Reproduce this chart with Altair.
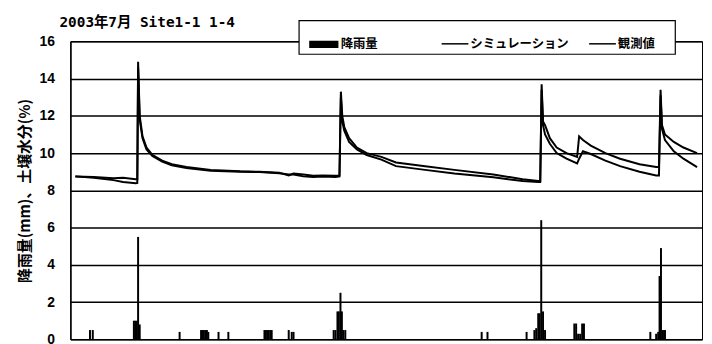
import altair as alt
import pandas as pd

# ---- data ----
y_ticks = [0, 2, 4, 6, 8, 10, 12, 14, 16]
chart_title = "2003年7月 Site1-1 1-4"

# soil moisture (%), day of July 2003
sm_day = [1.00, 1.92, 2.90, 3.38, 4.01, 4.09, 4.13, 4.21, 4.35, 4.55, 4.84, 5.33, 5.81,
          6.54, 7.75, 9.21, 10.18, 11.16, 11.64, 11.88, 12.37, 12.86, 13.34, 13.97, 14.17,
          14.24, 14.31, 14.41, 14.65, 15.04, 15.53, 16.26, 16.99, 18.44, 19.90, 21.84,
          23.30, 24.08, 24.18, 24.25, 24.32, 24.42, 24.66, 25.00, 25.49, 26.02, 26.12,
          26.31, 26.70, 27.43, 28.16, 29.13, 29.96, 30.10, 30.18, 30.25, 30.40, 30.84,
          31.32, 32.00]
sim_pct = [8.75, 8.72, 8.65, 8.68, 8.60, 8.60, 14.9, 12.0, 10.9, 10.3, 9.9, 9.6, 9.4,
           9.25, 9.1, 9.02, 9.0, 8.95, 8.8, 8.9, 8.85, 8.78, 8.8, 8.78, 8.8,
           13.3, 12.0, 11.4, 10.8, 10.3, 10.0, 9.8, 9.5, 9.3, 9.1, 8.85,
           8.6, 8.5, 8.5, 13.7, 11.7, 11.5, 10.8, 10.3, 10.0, 9.8, 10.9,
           10.7, 10.4, 10.0, 9.7, 9.4, 9.25, 9.25, 13.4, 11.5, 11.0, 10.6,
           10.3, 10.0]
obs_pct = [8.75, 8.68, 8.55, 8.45, 8.38, 8.40, 14.6, 11.8, 10.8, 10.2, 9.85, 9.55, 9.35,
           9.2, 9.05, 9.0, 8.98, 8.92, 8.85, 8.85, 8.75, 8.72, 8.75, 8.72, 8.75,
           13.0, 11.7, 11.2, 10.6, 10.2, 9.9, 9.65, 9.3, 9.1, 8.9, 8.7,
           8.5, 8.45, 8.45, 13.4, 11.5, 11.0, 10.5, 10.0, 9.7, 9.45, 9.7,
           10.1, 9.95, 9.6, 9.3, 9.0, 8.8, 8.8, 13.1, 11.3, 10.7, 10.1,
           9.7, 9.25]

# rainfall (mm), day of July 2003
rain_day = [1.73, 1.87, 3.92, 3.99, 4.06, 4.13, 4.21, 6.20,
            7.27, 7.34, 7.41, 7.49, 7.56, 7.63, 8.14, 8.63,
            10.43, 10.50, 10.57, 10.64, 10.72, 10.79, 11.64, 11.79, 11.88,
            13.88, 13.97, 14.07, 14.14, 14.22, 14.29, 14.36, 14.46,
            21.26, 21.55, 23.50, 23.89, 23.98, 24.08, 24.15, 24.23, 24.32, 24.42,
            25.88, 25.97, 26.07, 26.17, 26.27, 26.36,
            29.67, 29.96, 30.06, 30.13, 30.20, 30.30, 30.40]
rain_mm = [0.5, 0.5, 1.0, 1.0, 1.0, 5.5, 0.8, 0.4,
           0.5, 0.5, 0.5, 0.5, 0.5, 0.4, 0.4, 0.4,
           0.5, 0.5, 0.5, 0.5, 0.5, 0.5, 0.5, 0.4, 0.4,
           0.5, 0.5, 1.5, 1.5, 2.5, 1.5, 0.5, 0.5,
           0.4, 0.4, 0.4, 0.5, 0.6, 1.4, 1.4, 6.4, 1.5, 0.5,
           0.85, 0.85, 0.3, 0.3, 0.85, 0.85,
           0.4, 0.3, 0.4, 3.4, 4.9, 0.5, 0.5]

sim_name = "シミュレーション"
obs_name = "観測値"
rain_name = "降雨量"

n = len(sm_day)
sm_df = pd.DataFrame({
    "day": sm_day + sm_day,
    "value": sim_pct + obs_pct,
    "sm": [sim_name] * n + [obs_name] * n,
})
rain_df = pd.DataFrame({"day": rain_day, "mm": rain_mm, "rain": [rain_name] * len(rain_day)})

JP = "Noto Sans CJK JP"
x_scale = alt.Scale(domain=[1, 32], nice=False, zero=False)
y_scale = alt.Scale(domain=[0, 16], nice=False)
y_axis = alt.Axis(values=y_ticks, title="降雨量(mm)、土壌水分(%)", grid=True, ticks=False,
                  labelPadding=16, titlePadding=7)

bars = alt.Chart(rain_df).mark_bar(width=2).encode(
    x=alt.X("day:Q", scale=x_scale, axis=None),
    y=alt.Y("mm:Q", scale=y_scale, axis=y_axis),
    fill=alt.Fill("rain:N", scale=alt.Scale(domain=[rain_name], range=["black"]),
                  legend=alt.Legend(title=None, orient="none", legendX=241, legendY=-12,
                                    padding=0, symbolType="M-1,-0.21H1V0.21H-1Z",
                                    symbolSize=784, labelOffset=2)),
)

lines = alt.Chart(sm_df).mark_line(strokeWidth=2).encode(
    x=alt.X("day:Q", scale=x_scale, axis=None),
    y=alt.Y("value:Q", scale=y_scale, axis=y_axis),
    stroke=alt.Stroke("sm:N", scale=alt.Scale(domain=[sim_name, obs_name], range=["black", "black"]),
                      legend=alt.Legend(title=None, orient="none", legendX=374, legendY=-12,
                                        direction="horizontal", padding=0, columnPadding=16,
                                        symbolType="stroke", symbolSize=729,
                                        symbolStrokeWidth=1.5, labelOffset=1)),
)

box = alt.Chart(pd.DataFrame({"k": [0]})).mark_rect(
    fill="white", stroke="black", strokeWidth=1.2
).encode(x=alt.value(231), x2=alt.value(611), y=alt.value(-21), y2=alt.value(13))

title = alt.Chart(pd.DataFrame({"t": [chart_title]})).mark_text(
    align="left", baseline="alphabetic", font="DejaVu Sans Mono, Noto Sans CJK JP",
    fontSize=14.5, fontWeight="bold", color="black"
).encode(text="t:N", x=alt.value(-11), y=alt.value(-15))

chart = alt.layer(bars, lines, box, title).properties(
    width=638, height=301,
    padding={"left": 63, "top": 32, "right": 2, "bottom": 3},
    autosize="none",
).configure_view(stroke="black", strokeWidth=1).configure_axis(
    gridColor="black", gridWidth=1.5, gridOpacity=1,
    domainColor="black", domainWidth=1.5,
    labelFont="Liberation Sans", labelFontSize=14, labelFontWeight="bold", labelColor="black",
    titleFont=JP, titleFontSize=15, titleFontWeight="bold", titleColor="black",
).configure_legend(
    labelFont=JP, labelFontSize=12.5, labelFontWeight="bold", labelColor="black",
    symbolFillColor="black", symbolStrokeColor="black",
)

chart.save("out.html", embed_options={"renderer": "svg", "actions": False})
